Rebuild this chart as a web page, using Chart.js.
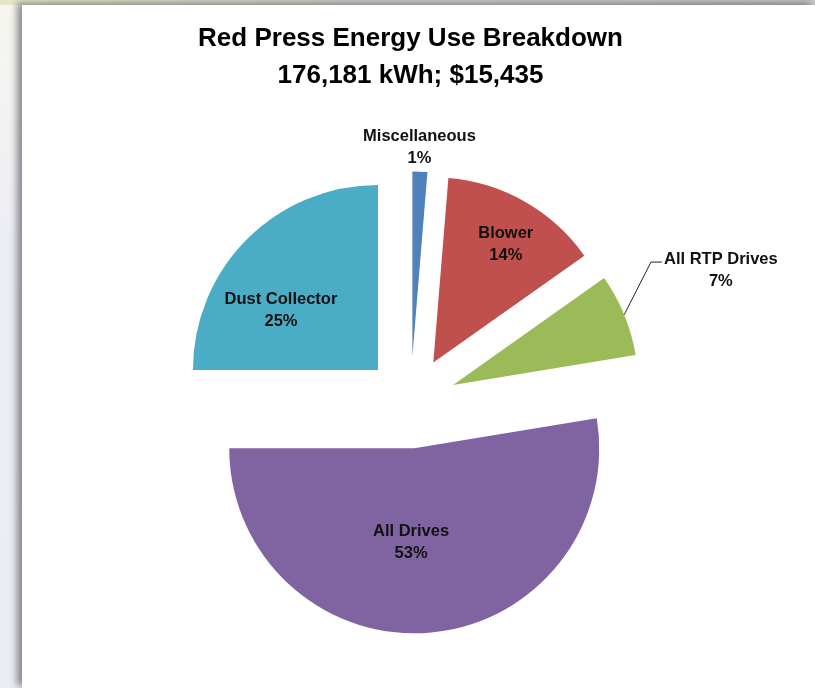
<!DOCTYPE html>
<html>
<head>
<meta charset="utf-8">
<title>Red Press Energy Use Breakdown</title>
<script src="https://cdn.jsdelivr.net/npm/chart.js@4.4.1/dist/chart.umd.min.js"></script>
<style>
  html, body { margin: 0; padding: 0; }
  body {
    width: 815px; height: 688px; position: relative; overflow: hidden;
    background: linear-gradient(180deg, #f7f7ef 0%, #ededf5 35%, #ececf3 100%);
  }
  #topbar {
    position: absolute; left: 0; top: 0; right: 0; height: 5px;
    background: linear-gradient(90deg, #e6e6c6 0%, #d2d2c8 40%, #c6c6c6 100%);
  }
  #panel {
    position: absolute; left: 22px; top: 5px; right: 0; bottom: 0;
    background: #fff;
    box-shadow: -5px -2px 7px rgba(70, 70, 80, 0.6);
  }
  canvas { position: absolute; left: 0; top: 0; }
</style>
</head>
<body>
<div id="topbar"></div>
<div id="panel"></div>
<canvas id="energyPie" width="815" height="688"></canvas>
<script>
// Data (share of 176,181 kWh)
const categories = ['Miscellaneous', 'Blower', 'All RTP Drives', 'All Drives', 'Dust Collector'];
const sharePct = [1.3, 13.9, 7.2, 52.6, 25.0];
const titleLines = ['Red Press Energy Use Breakdown', '176,181 kWh; $15,435'];

const EXPLODE = 46;   // how far every slice is pulled out (px)
const LINE_H = 22;

Chart.defaults.font.family = "'Liberation Sans', Arial, sans-serif";

// Chart.js's own `offset` also grows the radius and trims the angle,
// so pull the slices out by moving each arc's centre instead (Excel style)
const explodeSlices = {
    id: 'explodeSlices',
    afterDatasetUpdate(chart, args) {
        args.meta.data.forEach(arc => {
            const mid = (arc.startAngle + arc.endAngle) / 2;
            arc.x += Math.cos(mid) * EXPLODE;
            arc.y += Math.sin(mid) * EXPLODE;
        });
    }
};

// label placement relative to the exploded slice: radius factor + angle nudge (deg)
const labelPlace = [
    { r: 1.13, shift: -0.4 },
    { r: 0.75, shift: 1.8 },
    { r: 1.575, shift: -0.9, leader: true },
    { r: 0.51, shift: 6.6 },
    { r: 0.615, shift: -13.5 }
];

const sliceLabels = {
    id: 'sliceLabels',
    afterDatasetsDraw(chart) {
        const ctx = chart.ctx;
        const meta = chart.getDatasetMeta(0);
        const values = chart.data.datasets[0].data;
        const total = values.reduce((a, b) => a + b, 0);
        ctx.save();
        ctx.font = "bold 16.5px 'Liberation Sans', Arial, sans-serif";
        ctx.fillStyle = '#111';
        ctx.strokeStyle = '#222';
        ctx.lineWidth = 1;
        ctx.textAlign = 'center';
        ctx.textBaseline = 'middle';
        meta.data.forEach((arc, i) => {
            const p = arc.getProps(['x', 'y', 'startAngle', 'endAngle', 'outerRadius'], true);
            const mid = (p.startAngle + p.endAngle) / 2;
            const place = labelPlace[i];
            const a = mid + place.shift * Math.PI / 180;
            const lx = p.x + Math.cos(a) * place.r * p.outerRadius;
            const ly = p.y + Math.sin(a) * place.r * p.outerRadius;
            const name = chart.data.labels[i];
            ctx.fillText(name, lx, ly - LINE_H / 2);
            ctx.fillText(Math.round(values[i] / total * 100) + '%', lx, ly + LINE_H / 2);
            if (place.leader) {
                const ex = p.x + Math.cos(mid) * p.outerRadius;
                const ey = p.y + Math.sin(mid) * p.outerRadius;
                const left = lx - ctx.measureText(name).width / 2;
                const ty = ly - LINE_H / 2 + 3;
                ctx.beginPath();
                ctx.moveTo(ex, ey);
                ctx.lineTo(left - 13, ty);
                ctx.lineTo(left - 2, ty);
                ctx.stroke();
            }
        });
        ctx.restore();
    }
};

const ctxPie = document.getElementById('energyPie').getContext('2d');
const energyPie = new Chart(ctxPie, {
    type: 'pie',
    data: {
        labels: categories,
        datasets: [{
            data: sharePct,
            backgroundColor: ['#4f81bd', '#c0504d', '#9bbb59', '#8064a2', '#4bacc6'],
            borderWidth: 0,
            radius: 185,
            offset: 0,
            hoverOffset: 0
        }]
    },
    options: {
        responsive: false,
        animation: false,
        layout: { padding: { top: 4, left: 6, right: 0, bottom: 0 } },
        plugins: {
            legend: { display: false },
            tooltip: { enabled: false },
            title: {
                display: true,
                text: titleLines,
                color: '#000',
                font: { size: 26, weight: 'bold', lineHeight: 1.44 },
                padding: { top: 16, bottom: 22 }
            }
        },
        events: []
    },
    plugins: [explodeSlices, sliceLabels]
});
</script>
</body>
</html>
